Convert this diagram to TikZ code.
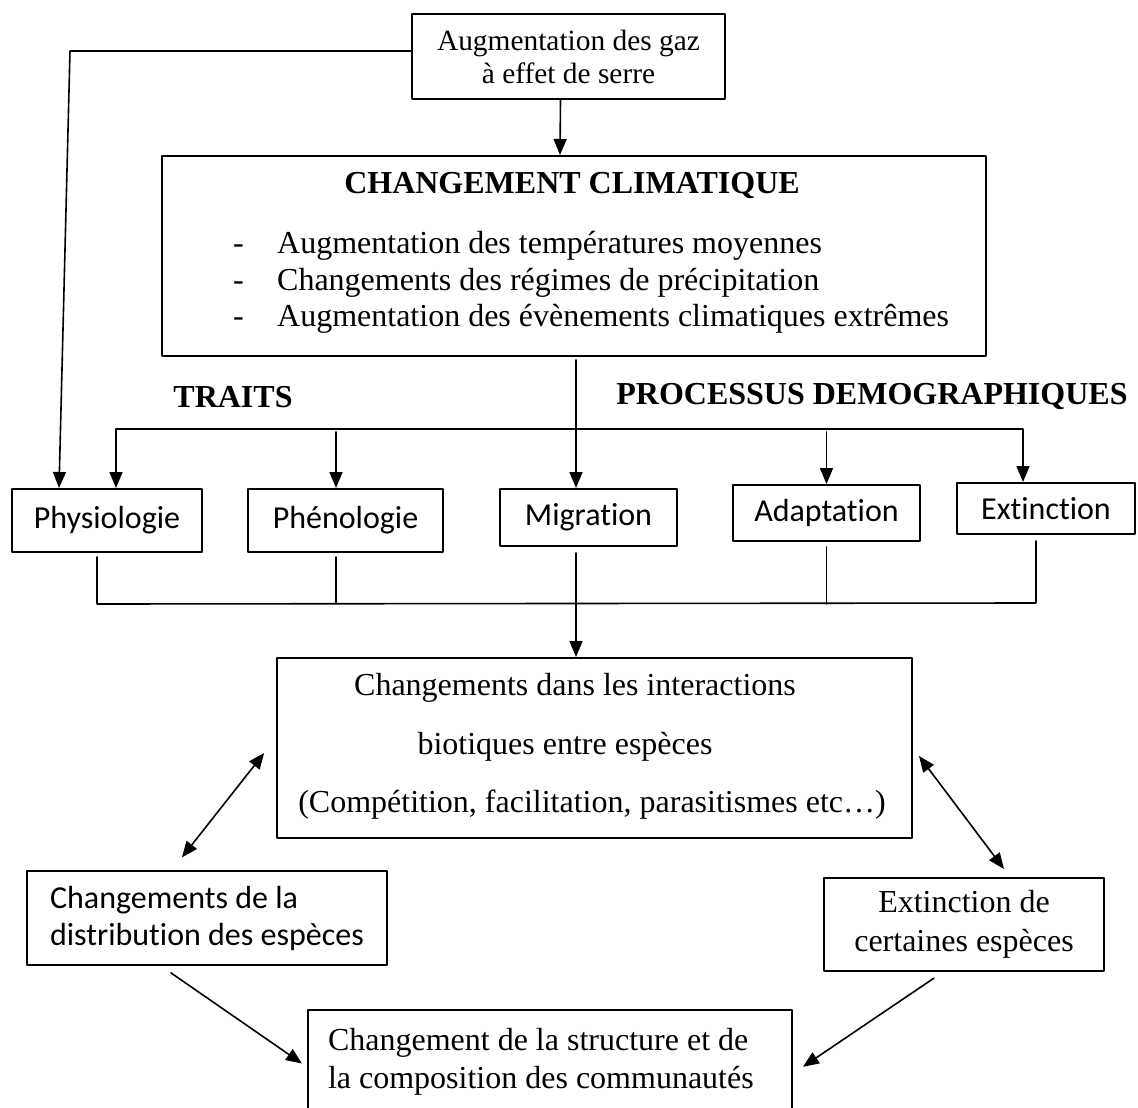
\documentclass[tikz,border=0pt]{standalone}
\usepackage{fontspec}
\setmainfont{Liberation Serif}
\newfontfamily\calibri[RawFeature={-liga;-clig;-dlig}]{Carlito}
\usetikzlibrary{arrows.meta}

\begin{document}
\begin{tikzpicture}[x=1pt, y=-1pt, >={Triangle[length=16pt,width=13pt]}, line cap=round, line join=round,
		font=\fontsize{32}{37}\selectfont,
		boite/.style={draw, line width=2pt, inner sep=0pt},
		sans/.style={font=\calibri\fontsize{32}{37}\selectfont},
		gras/.style={font=\bfseries\fontsize{32}{37}\selectfont},
		lien/.style={line width=1.6pt}]
		\useasboundingbox (0,0) rectangle (1138,1108);
		
		\node[boite, minimum width=313pt, minimum height=85pt, align=center, font=\fontsize{29.4}{33}\selectfont] (gaz) at (568.5,56.5) {Augmentation des gaz\\à effet de serre};
		
		\node[boite, minimum width=824pt, minimum height=200pt] (climat) at (574,256) {};
		\node[gras] (titre) at (572,185) {CHANGEMENT CLIMATIQUE};
		\node[anchor=west, inner sep=0pt, font=\fontsize{32}{36.5}\selectfont] (liste) at (233,283) {\begin{tabular}{@{}p{44pt}@{}l@{}}
				-&Augmentation des températures moyennes\\
				-&Changements des régimes de précipitation\\
				-&Augmentation des évènements climatiques extrêmes
		\end{tabular}};
		
		\node[gras] (traits) at (233,397) {TRAITS};
		\node[gras] (processus) at (872,396) {PROCESSUS DEMOGRAPHIQUES};
		
		\node[boite, sans, minimum width=190pt, minimum height=63pt] (phys) at (107,520.5) {Physiologie};
		\node[boite, sans, minimum width=195pt, minimum height=63pt] (pheno) at (345.5,520.5) {Phénologie};
		\node[boite, sans, minimum width=177pt, minimum height=57pt] (migr) at (588.5,517.5) {Migration};
		\node[boite, sans, minimum width=187pt, minimum height=56pt] (adapt) at (826.5,513) {Adaptation};
		\node[boite, sans, minimum width=178pt, minimum height=51pt] (extinc) at (1046,508.5) {Extinction};
		
		\node[boite, minimum width=635pt, minimum height=180pt] (inter) at (594.5,748) {};
		\node (inter1) at (575,688) {Changements dans les interactions};
		\node (inter2) at (565,747) {biotiques entre espèces};
		\node (inter3) at (592,805) {(Compétition, facilitation, parasitismes etc…)};
		
		\node[boite, sans, minimum width=360pt, minimum height=94pt, align=left] (distrib) at (207,918) {Changements de la\\distribution des espèces};
		\node[boite, minimum width=280pt, minimum height=93pt, align=center, font=\fontsize{32}{39}\selectfont] (extcert) at (964,924.5) {Extinction de\\certaines espèces};
		\node[boite, minimum width=484pt, minimum height=104pt, text width=444pt, inner xsep=20pt, align=flush left, font=\fontsize{32}{38}\selectfont] (structure) at (550,1062) {Changement de la structure et de\\la composition des communautés};
		
		\coordinate (coin) at (70,51);
		\draw[lien, ->] ([yshift=5.5pt]gaz.west) -- (coin) -- ([xshift=48pt]phys.north west);
		\draw[lien, ->] ([xshift=-8pt]gaz.south) -- ([xshift=-14pt]climat.north);
		
		\coordinate (busG) at (116,429);
		\coordinate (busD) at (1023,429);
		\coordinate (bPheno) at (336,432);
		\coordinate (cMigr) at (576,360);
		\draw[lien, <->] (busG |- phys.north) -- (busG) -- (busD) -- (busD |- extinc.north);
		\draw[lien, ->] (bPheno) -- (bPheno |- pheno.north);
		\draw[lien, ->] (adapt.north |- bPheno) -- (adapt.north);
		\draw[lien, ->] (cMigr) -- (cMigr |- migr.north);
		
		\coordinate (basG) at (97,604);
		\coordinate (basD) at (1036,603);
		\draw[lien, shorten <=4pt, shorten >=6pt] (basG |- phys.south) -- (basG) -- (basD) -- (basD |- extinc.south);
		\draw[lien, shorten <=4pt] (bPheno |- pheno.south) -- (bPheno |- basG);
		\draw[lien, shorten <=5pt] (adapt.south) -- (adapt.south |- basG);
		\draw[lien, ->, shorten <=6pt] (cMigr |- migr.south) -- (cMigr |- inter.north);
		
		\draw[lien, <->, shorten <=16pt, shorten >=19pt] ([xshift=-35pt]distrib.north) -- ([yshift=10pt]inter.west);
		\draw[lien, <->, shorten <=10pt, shorten >=10pt] (inter.east) -- ([xshift=46pt]extcert.north);
		\draw[lien, ->, shorten <=12pt, shorten >=6pt] ([xshift=-46pt]distrib.south) -- ([yshift=-5pt]structure.west);
		\draw[lien, ->, shorten <=11pt, shorten >=12pt] ([xshift=-21pt]extcert.south) -- ([yshift=-11.5pt]structure.east);
	\end{tikzpicture}
\end{document}
